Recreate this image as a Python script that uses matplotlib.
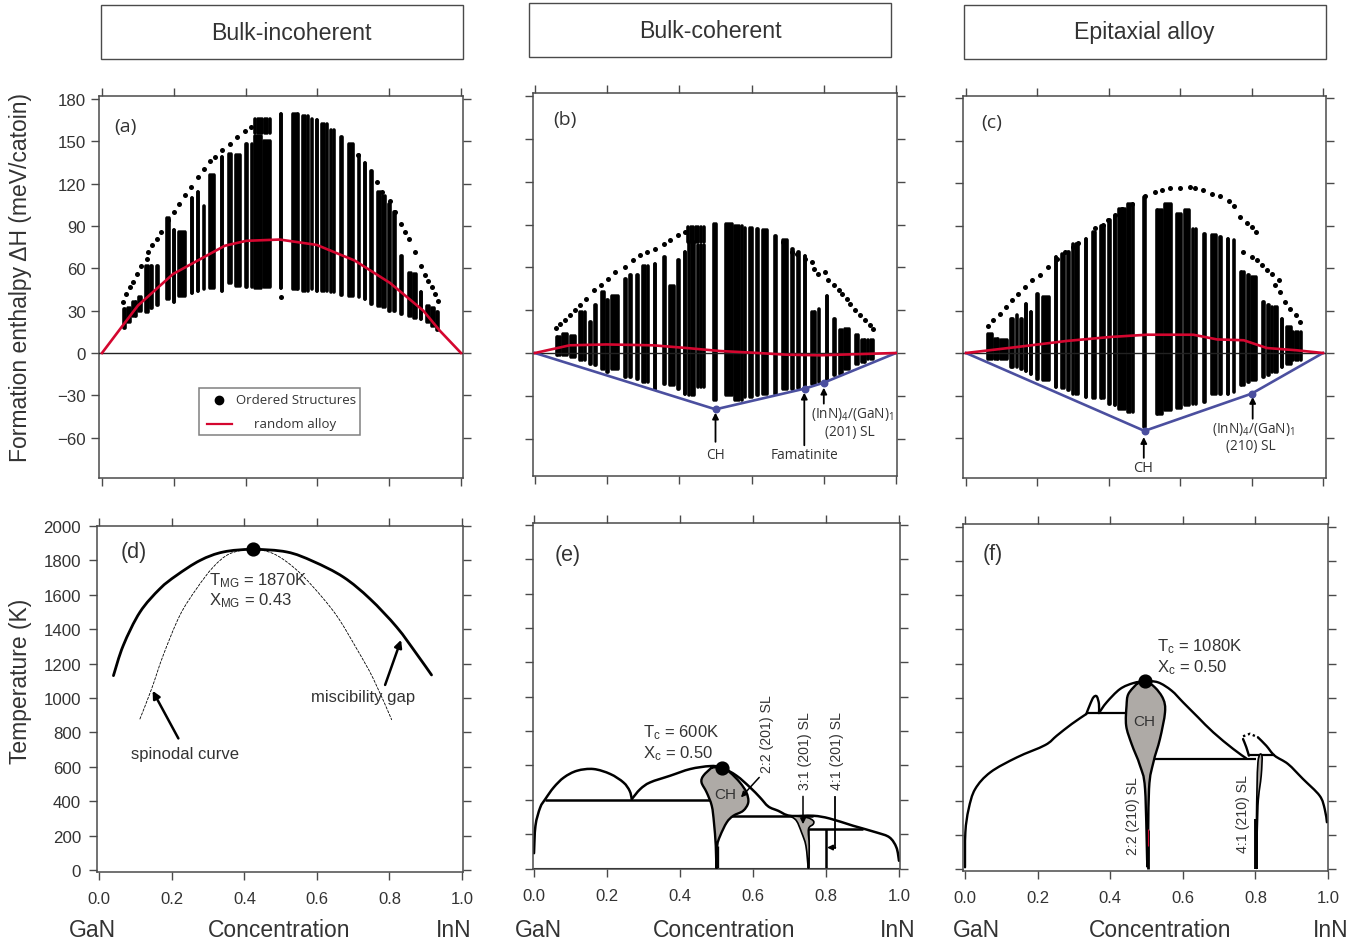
"""
GaN-InN formation enthalpy and phase diagram panels
"""

import numpy as np
import matplotlib
matplotlib.use("Agg")
import matplotlib.pyplot as plt
from matplotlib.patches import Rectangle, PathPatch
from matplotlib.path import Path

W, H = 1366, 945
DARK = "#333333"
SPINE = "#4a4a4a"
RED = "#d4062f"
BLUE = "#4b4f9f"
GRAY = "#aeaaa6"
SANS = "Liberation Sans"
MYRIAD = "Open Sans"

plt.rcParams["font.family"] = [SANS, "DejaVu Sans"]
plt.rcParams["mathtext.default"] = "regular"

# ======================================================
# DATA - enthalpy panels (concentration, meV/cation)
# ======================================================

a_left = [.057, .068, .082, .100, .119, .133, .148, .178, .196, .211, .247, .263, .282, .296, .330, .351, .370, .396, .414, .423, .447, .423, .495, .528, .556, .581, .596, .609, .635, .663, .684, .711, .728, .744, .765, .779, .796, .809, .830, .851, .865, .884, .902, .914, .928]
a_right = [.068, .082, .100, .114, .133, .144, .159, .190, .205, .235, .256, .272, .289, .317, .338, .363, .388, .407, .421, .447, .471, .471, .503, .551, .577, .588, .604, .630, .649, .672, .704, .718, .737, .756, .779, .791, .805, .821, .839, .865, .878, .893, .914, .928, .941]
a_top = [31, 32, 36, 40, 62, 62, 62, 96, 87, 85.6, 110, 114, 104.5, 125.8, 138.8, 141, 140, 148, 148, 154, 150, 166, 169.6, 169.6, 168, 166, 165, 162.5, 157.8, 153, 148, 140, 135, 129, 114, 111.6, 105.7, 99.8, 69, 57, 56, 43, 33.6, 32, 29]
a_bot = [17.5, 22, 26.5, 30, 29, 32, 34, 38, 36, 40.7, 42.6, 44, 45.4, 45.9, 44, 49.4, 47.8, 46.6, 46.6, 46, 47, 156, 46, 45.4, 44, 45.4, 44, 44, 43.5, 41, 40.7, 39.5, 38.3, 34.8, 33.6, 32.4, 30, 30, 27.7, 26.5, 25, 24, 21.8, 19.4, 16]

a_dots_x = [.059, .068, .077, .086, .098, .110, .124, .128, .140, .153, .165, .184, .200, .214, .230, .249, .268, .283, .300, .314, .333, .356, .375, .398, .416, .499,
            .691, .714, .765, .779, .802, .816, .832, .844, .856, .872, .888, .900, .909, .918, .928, .937]
a_dots_y = [36.4, 41.9, 46.6, 50.6, 56, 61.5, 66.7, 71.4, 76.2, 80.9, 86.1, 93.9, 99.8, 105.7, 112.1, 117.5, 124.6, 130.6, 135.8, 138.8, 143.6, 148.3, 153, 157, 160, 39.5,
            146, 140, 121, 114, 108, 99.8, 91.5, 86, 81, 71.4, 61.5, 55.6, 51.3, 46.6, 41.9, 36.7]

a_red_x = [0, .054, .10, .198, .342, .402, .495, .598, .704, .802, .895, .941, 1]
a_red_y = [0, 18.2, 33.6, 56, 76, 79.5, 80.4, 76.6, 65.5, 49.7, 30, 15.8, 0]

b_left = [.057, .073, .096, .121, .147, .163, .182, .196, .209, .244, .259, .279, .295, .328, .353, .371, .392, .411, .423, .448, .420, .492, .526, .549, .579, .591, .610, .628, .660, .684, .709, .725, .744, .764, .783, .804, .825, .841, .855, .885, .901, .919]
b_right = [.073, .092, .115, .142, .159, .172, .194, .205, .235, .255, .270, .289, .316, .337, .364, .388, .403, .420, .445, .471, .471, .505, .549, .577, .586, .605, .622, .647, .672, .702, .718, .735, .753, .781, .790, .813, .834, .855, .873, .899, .919, .940]
b_top = [11.2, 13.5, 12, 28.7, 21.7, 33.4, 42.7, 36.9, 40, 52, 54.4, 54.4, 61, 62.6, 67, 47, 65, 70.7, 77.7, 76, 88.3, 90.6, 90.6, 89.4, 88, 88, 87, 86, 82, 79, 73, 70.7, 68, 28.7, 31, 40, 24, 15.9, 17, 12.4, 8.9, 8.9]
b_bot = [-1.2, -1.6, -2.8, -5, -7.5, -8.6, -11, -13.3, -11, -16.8, -16.8, -18, -20, -25, -21.5, -22.6, -25, -28.5, -29.7, -24, 77.7, -33, -29.7, -33, -30.8, -30.8, -29.7, -28.5, -28.5, -25, -25, -24.3, -23.8, -21.5, -20, -19, -15.6, -14.5, -11, -7.5, -6.3, -4]

b_dots_x = [.059, .070, .082, .096, .110, .126, .142, .163, .184, .203, .221, .249, .272, .290, .309, .332, .357, .374, .397, .415,
            .688, .711, .727, .748, .767, .772, .785, .804, .813, .827, .841, .850, .864, .873, .887, .901, .915, .929, .936]
b_dots_y = [17.7, 20.5, 22.9, 26.4, 29.9, 33.4, 37.6, 43.9, 47.4, 51.6, 56.7, 60.2, 64.9, 68.4, 70.7, 73, 76.6, 78.9, 82.4, 84.8,
            77.7, 70.7, 69.6, 66, 63.7, 59, 55.6, 56.7, 50.9, 47.4, 43.9, 41.6, 38, 34.6, 29.9, 26.4, 22.9, 19.4, 17]

b_red_x = [0, .096, .198, .327, .42, .512, .605, .697, .79, .882, 1]
b_red_y = [0, 5.4, 6, 5.4, 3.5, 1.4, .2, -1.2, -1.6, -.9, 0]
b_blue_x = [0, .5, .747, .80, 1]
b_blue_y = [0, -39.5, -25, -20.8, 0]

c_left = [.058, .077, .095, .121, .140, .151, .163, .177, .196, .212, .247, .265, .282, .296, .331, .353, .373, .396, .413, .425, .450, .495, .530, .553, .586, .609, .633, .663, .686, .707, .729, .748, .766, .785, .796, .829, .841, .854, .882, .894, .913]
c_right = [.077, .095, .119, .137, .147, .161, .172, .186, .206, .236, .256, .278, .292, .318, .339, .366, .390, .406, .422, .448, .471, .505, .553, .577, .605, .630, .647, .673, .703, .717, .738, .755, .782, .796, .817, .838, .852, .876, .890, .913, .941]
c_top = [13.6, 10, 9, 24, 26.6, 24, 34.8, 29, 42, 39.5, 67.8, 70, 71.3, 77, 80.7, 85.4, 90, 93.6, 96, 102, 105, 110, 100.7, 105, 98, 100.7, 87.8, 84, 83, 82, 80.7, 79.5, 57, 54.8, 53.6, 36, 33.6, 32.5, 24, 18.4, 14.8]
c_bot = [-4, -4.5, -4, -10, -10, -11, -13, -14.6, -18, -19, -24, -25, -26, -28.7, -31, -32, -32, -35.8, -37, -39.3, -41.6, -52, -42.8, -40.5, -39, -37, -35.8, -34.6, -28.7, -28.7, -28.7, -27.5, -22.8, -20.5, -19.3, -17, -15.8, -13.4, -10, -7.5, -5.2]

c_dots_x = [.063, .077, .095, .112, .128, .147, .165, .184, .207, .231, .254, .278, .301, .315, .362, .385, .399, .418, .436, .464, .5,
            .53, .549, .572, .6, .628, .642, .665, .689, .712, .736, .75, .768, .787, .801, .813,
            .776, .801, .815, .829, .843, .857, .876, .866, .88, .894, .908, .923, .936]
c_dots_y = [19, 23, 27.8, 32.5, 37.2, 41.9, 46.6, 51.3, 54.8, 60.7, 66.6, 71.3, 74.8, 77.9, 88.2, 90.6, 94, 97.2, 101.9, 105.4, 110.8,
            113.6, 115.3, 116.5, 116.5, 117, 116.7, 114.8, 112.5, 110.8, 107, 104, 96, 92, 89, 85.4,
            71.3, 67.8, 65.4, 61.9, 58.4, 56, 51.3, 47.8, 43, 36, 31.3, 26.6, 21.9]

c_red_x = [0, .142, .282, .404, .507, .637, .703, .778, .843, .927, 1]
c_red_y = [0, 4.2, 8.5, 11.3, 12.9, 12.9, 9.6, 9, 3.5, 1.9, 0]
c_blue_x = [0, .5, .80, 1]
c_blue_y = [0, -55, -28.7, 0]

# ======================================================
# DATA - phase diagrams (concentration, K)
# ======================================================

d_gap_x = [.039, .066, .112, .167, .213, .278, .342, .423, .517, .59, .673, .746, .82, .875, .916]
d_gap_y = [1130, 1305, 1499, 1635, 1713, 1800, 1849, 1864, 1849, 1794, 1703, 1577, 1412, 1256, 1134]
d_spin_x = [.112, .144, .176, .222, .268, .314, .36, .423, .48, .535, .59, .654, .71, .756, .806]
d_spin_y = [878, 1052, 1247, 1480, 1635, 1761, 1839, 1864, 1839, 1761, 1645, 1480, 1285, 1110, 874]

e_left_x = [0, .004, .017, .031, .054, .082, .118, .163, .209, .245, .262, .268]
e_left_y = [89, 249, 355, 404, 472, 530, 569, 579, 550, 501, 452, 404]
e_mid_x = [.268, .291, .318, .373, .428, .482, .514, .555, .592, .619, .642, .669, .701, .765, .81, .874, .938, .974, .993, 1]
e_mid_y = [404, 462, 501, 540, 579, 596, 588, 540, 472, 414, 361, 336, 307, 307, 291, 249, 210, 181, 122, 45]
e_ch_x = [.487, .464, .459, .473, .487, .493, .498, .5, .502, .51, .528, .546, .573, .587, .582, .564, .537, .514, .487]
e_ch_y = [588, 540, 501, 443, 365, 268, 132, 0, 132, 190, 268, 307, 336, 384, 443, 501, 559, 588, 588]
e_31_x = [.701, .719, .733, .745, .752, .754, .752, .765, .765, .747, .701]
e_31_y = [307, 278, 210, 132, 0, 132, 229, 258, 278, 297, 307]
# tie lines: y, x from, x to
e_tie_y = [400, 307, 229]
e_tie_from = [.031, .537, .751]
e_tie_to = [.482, .765, .901]

f_left_x = [0, .001, .01, .028, .07, .143, .221, .253, .294, .334]
f_left_y = [10, 214, 350, 467, 565, 652, 724, 779, 847, 905]
f_bump_x = [.334, .345, .354, .363, .369, .369]
f_bump_y = [905, 964, 1003, 1008, 964, 911]
f_main_x = [.369, .39, .427, .464, .496, .532, .569, .601, .642, .684, .739, .775]
f_main_y = [911, 973, 1051, 1086, 1096, 1090, 1042, 973, 886, 798, 701, 646]
f_lobe_x = [.766, .775, .782]
f_lobe_y = [759, 711, 662]
f_dot_x = [.766, .785, .807]
f_dot_y = [775, 790, 769]
f_right_x = [.807, .83, .853, .89, .931, .977, .991, .997]
f_right_y = [769, 720, 662, 613, 526, 428, 350, 273]
f_ch_x = [.473, .45, .445, .444, .459, .482, .496, .503, .507, .519, .537, .551, .546, .523, .496, .473]
f_ch_y = [1081, 1022, 954, 837, 730, 604, 467, 10, 467, 623, 759, 915, 993, 1061, 1096, 1081]
f_41_x = [.803, .803, .807, .818, .816, .807, .803]
f_41_y = [4, 292, 623, 662, 545, 370, 4]
f_tie_y = [909, 643, 666]
f_tie_from = [.334, .519, .782]
f_tie_to = [.445, .803, .853]

x_ticks = [0, .2, .4, .6, .8, 1]
x_labels = ["0.0", "0.2", "0.4", "0.6", "0.8", "1.0"]
h_ticks = [-60, -30, 0, 30, 60, 90, 120, 150, 180]
t_ticks = [0, 200, 400, 600, 800, 1000, 1200, 1400, 1600, 1800, 2000]

titles = ["Bulk-incoherent", "Bulk-coherent", "Epitaxial alloy"]


# ======================================================
# HELPERS
# ======================================================

fig = plt.figure(figsize=(W / 100, H / 100), dpi=100)


def make_axes(box, xpx, ypx, yvals, yticks):
    left, right, top, bottom = box
    ax = fig.add_axes([left / W, 1 - bottom / H, (right - left) / W, (bottom - top) / H])
    xs = 1 / (xpx[1] - xpx[0])
    ax.set_xlim((left - xpx[0]) * xs, (right - xpx[0]) * xs)
    ys = (yvals[1] - yvals[0]) / (ypx[0] - ypx[1])
    ax.set_ylim(yvals[0] - (bottom - ypx[0]) * ys, yvals[0] + (ypx[0] - top) * ys)
    ax.set_xticks(x_ticks)
    ax.set_yticks(yticks)
    ax.tick_params(direction="out", length=5.5, width=1, color=SPINE, top=True, right=True,
                   labelbottom=False, labelleft=False, labelcolor=DARK)
    for s in ax.spines.values():
        s.set_color(SPINE)
        s.set_linewidth(1.1)
    return ax


def curve(ax, x, y, **kw):
    # bezier segments through the read points, so the line is not angular
    pts = np.column_stack([x, y])
    n = len(pts)
    verts = [pts[0]]
    codes = [Path.MOVETO]
    for i in range(n - 1):
        p0, p1, p2, p3 = pts[max(i - 1, 0)], pts[i], pts[i + 1], pts[min(i + 2, n - 1)]
        verts += [p1 + (p2 - p0) / 6, p2 - (p3 - p1) / 6, p2]
        codes += [Path.CURVE4] * 3
    kw.setdefault("fill", False)
    ax.add_patch(PathPatch(Path(verts, codes), capstyle="round", **kw))


def draw_enthalpy(ax, left, right, top, bot, dots_x, dots_y, red_x, red_y, blue_x=None, blue_y=None):
    # each block of structures is a set of touching columns of dots
    for l, r, t, b in zip(left, right, top, bot):
        inner = r - l - .008
        if inner <= 0:
            xs = [(l + r) / 2]
        else:
            xs = np.linspace(l + .004, r - .004, int(np.ceil(inner / .0075)) + 1)
        ax.vlines(xs, b, t, color="black", lw=2.6, capstyle="round", zorder=2)
    ax.scatter(dots_x, dots_y, s=13, color="black", linewidths=0, zorder=2)
    ax.axhline(0, color="#222222", lw=1, zorder=3)
    if blue_x is not None:
        ax.plot(blue_x, blue_y, color=BLUE, lw=1.9, zorder=4)
        ax.scatter(blue_x[1:-1], blue_y[1:-1], s=22, color=BLUE, zorder=5)
    ax.plot(red_x, red_y, color=RED, lw=1.9, zorder=5)


def note(ax, txt, x, y, size=9.8, family=MYRIAD, **kw):
    kw.setdefault("ha", "center")
    kw.setdefault("va", "center")
    ax.text(x, y, txt, fontsize=size, family=family, color=DARK, **kw)


def arrow(ax, start, end, lw=1.3, scale=9):
    ax.annotate("", xy=end, xytext=start,
                arrowprops=dict(arrowstyle="-|>", color="black", lw=lw, mutation_scale=scale,
                                shrinkA=0, shrinkB=0))


# ======================================================
# TOP ROW
# ======================================================

ax_a = make_axes((99, 463, 97, 479), (102, 461), (354, 100), (0, 180), h_ticks)
ax_b = make_axes((533, 897, 94, 477), (535, 896), (354, 97.3), (0, 180), h_ticks)
ax_c = make_axes((963, 1326, 97, 479), (966, 1323), (354, 99), (0, 180), h_ticks)

draw_enthalpy(ax_a, a_left, a_right, a_top, a_bot, a_dots_x, a_dots_y, a_red_x, a_red_y)
draw_enthalpy(ax_b, b_left, b_right, b_top, b_bot, b_dots_x, b_dots_y, b_red_x, b_red_y, b_blue_x, b_blue_y)
draw_enthalpy(ax_c, c_left, c_right, c_top, c_bot, c_dots_x, c_dots_y, c_red_x, c_red_y, c_blue_x, c_blue_y)

ax_a.tick_params(labelleft=True, labelsize=12.2, pad=4)

# legend box drawn by hand, it is not laid out like a normal legend
ax_a.add_patch(Rectangle((.27, -58), .45, 33.2, fc="white", ec="#808080", lw=1.1, zorder=6))
ax_a.scatter([.326], [-33.3], s=36, color="black", zorder=7)
ax_a.plot([.292, .362], [-50, -50], color=RED, lw=1.6, zorder=7)
note(ax_a, "Ordered Structures", .372, -33.3, size=9.5, ha="left", zorder=7)
note(ax_a, "random alloy", .538, -50, size=9.5, zorder=7)

note(ax_a, "(a)", .064, 161, size=14)
note(ax_b, "(b)", .083, 164, size=14)
note(ax_c, "(c)", .073, 163, size=14)

note(ax_b, "CH", .499, -71)
note(ax_b, "Famatinite", .746, -71)
note(ax_b, "(InN)$_4$/(GaN)$_1$", .878, -42.5)
note(ax_b, "(201) SL", .873, -55.3)
arrow(ax_b, (.5, -62.3), (.5, -41.8))
arrow(ax_b, (.746, -64.7), (.746, -27.8))
arrow(ax_b, (.8, -35.5), (.8, -24.3))

note(ax_c, "CH", .495, -80.5, size=10.5)
note(ax_c, "(InN)$_4$/(GaN)$_1$", .806, -53.2)
note(ax_c, "(210) SL", .798, -65.6)
arrow(ax_c, (.498, -74), (.498, -59.3))
arrow(ax_c, (.803, -46.4), (.803, -31))

# ======================================================
# BOTTOM ROW
# ======================================================

ax_d = make_axes((97, 463, 527, 873), (99.3, 462), (871, 527), (0, 2000), t_ticks)
ax_e = make_axes((533, 900, 524, 870), (534, 899), (869.5, 697.7), (0, 1000), t_ticks)
ax_f = make_axes((963, 1328, 525, 872), (965, 1328), (870, 630.3), (0, 1400), t_ticks)

for ax in (ax_d, ax_e, ax_f):
    ax.tick_params(axis="x", labelbottom=True, labelsize=12, pad=8)
    ax.set_xticklabels(x_labels)
ax_d.tick_params(axis="y", labelleft=True, labelsize=12.2, pad=6)

# (d)
curve(ax_d, d_gap_x, d_gap_y, color="black", lw=2)
curve(ax_d, d_spin_x, d_spin_y, color="black", lw=.6, ls=(0, (3, 2)))
ax_d.scatter([.423], [1864], s=85, color="black", zorder=5)
note(ax_d, "(d)", .094, 1850, size=15.5, family=SANS)
note(ax_d, "T$_{MG}$ = 1870K", .302, 1690, size=12, family=SANS, ha="left")
note(ax_d, "X$_{MG}$ = 0.43", .302, 1569, size=12, family=SANS, ha="left")
note(ax_d, "spinodal curve", .236, 680, size=12, family=SANS)
note(ax_d, "miscibility gap", .727, 1011, size=12, family=SANS)
arrow(ax_d, (.218, 765), (.147, 1042), lw=1.8, scale=11)
arrow(ax_d, (.788, 1076), (.832, 1338), lw=1.8, scale=11)

# (e)
curve(ax_e, e_ch_x, e_ch_y, fill=True, fc=GRAY, ec="black", lw=1.7, zorder=3)
curve(ax_e, e_31_x, e_31_y, fill=True, fc=GRAY, ec="black", lw=1.2, zorder=3)
curve(ax_e, e_left_x, e_left_y, color="black", lw=1.8)
curve(ax_e, e_mid_x, e_mid_y, color="black", lw=1.8)
ax_e.hlines(e_tie_y, e_tie_from, e_tie_to, color="black", lw=1.8)
ax_e.hlines([0], [0], [1], color="black", lw=1.5)
ax_e.vlines([.5, .752, .801], [0, 0, 0], [130, 229, 229], color="black", lw=[2.4, 1.8, 1.8])
ax_e.scatter([.514], [585], s=85, color="black", zorder=5)
note(ax_e, "(e)", .093, 1830, size=15.5, family=SANS)
note(ax_e, "T$_c$ = 600K", .299, 799, size=12, family=SANS, ha="left")
note(ax_e, "X$_c$ = 0.50", .299, 677, size=12, family=SANS, ha="left")
note(ax_e, "CH", .523, 433, size=11, family=SANS, zorder=6)
note(ax_e, "2:2 (201) SL", .638, 787, size=10.2, family=SANS, rotation=90)
note(ax_e, "3:1 (201) SL", .742, 688, size=10.2, family=SANS, rotation=90)
note(ax_e, "4:1 (201) SL", .83, 688, size=10.2, family=SANS, rotation=90)
arrow(ax_e, (.617, 530), (.567, 414), lw=1.1, scale=8)
arrow(ax_e, (.737, 420), (.737, 258), lw=1.1, scale=8)
ax_e.plot([.826, .826], [419, 122], color="black", lw=1.3)
arrow(ax_e, (.826, 122), (.803, 122), lw=1.1, scale=8)

# (f)
curve(ax_f, f_ch_x, f_ch_y, fill=True, fc=GRAY, ec="black", lw=1.7, zorder=3)
curve(ax_f, f_41_x, f_41_y, fill=True, fc=GRAY, ec="black", lw=1.2, zorder=3)
for cx, cy in [(f_left_x, f_left_y), (f_bump_x, f_bump_y), (f_main_x, f_main_y),
               (f_lobe_x, f_lobe_y), (f_right_x, f_right_y)]:
    curve(ax_f, cx, cy, color="black", lw=1.7)
ax_f.plot(f_dot_x, f_dot_y, color="black", lw=1.7, ls=(0, (1, 1.2)))
ax_f.hlines(f_tie_y, f_tie_from, f_tie_to, color="black", lw=1.6)
ax_f.vlines([.503, .803], [0, 0], [230, 290], color="black", lw=[2, 2.8], zorder=4)
ax_f.vlines([.505], [136], [234], color=RED, lw=.8, zorder=5)
ax_f.scatter([.496], [1096], s=85, color="black", zorder=5)
note(ax_f, "(f)", .077, 1840, size=15.5, family=SANS)
note(ax_f, "T$_c$ = 1080K", .529, 1306, size=12, family=SANS, ha="left")
note(ax_f, "X$_c$ = 0.50", .529, 1183, size=12, family=SANS, ha="left")
note(ax_f, "CH", .493, 863, size=11, family=SANS, zorder=6)
note(ax_f, "2:2 (210) SL", .463, 315, size=10.2, family=SANS, rotation=90)
note(ax_f, "4:1 (210) SL", .766, 326, size=10.2, family=SANS, rotation=90)

# ======================================================
# FIGURE TEXT
# ======================================================

for name, (x0, x1, y0, y1), cx in zip(titles, [(101, 463, 6, 60), (529, 891, 4, 58), (964, 1326, 6, 60)],
                                      [291, 710, 1144]):
    fig.add_artist(Rectangle((x0 / W, 1 - y1 / H), (x1 - x0) / W, (y1 - y0) / H, fill=False,
                             ec=SPINE, lw=1, transform=fig.transFigure))
    fig.text(cx / W, 1 - (y0 + y1) / 2 / H, name, ha="center", va="center",
             fontsize=16.7, color=DARK)

for gan, conc, inn in [(92, 279, 454), (538, 724, 898), (976, 1160, 1331)]:
    for px, label in [(gan, "GaN"), (conc, "Concentration"), (inn, "InN")]:
        fig.text(px / W, 1 - 931 / H, label, ha="center", va="center", fontsize=16.5, color=DARK)

fig.text(21 / W, 1 - 277 / H, "Formation enthalpy ΔH (meV/catoin)", rotation=90, ha="center",
         va="center", fontsize=16.5, color=DARK)
fig.text(21 / W, 1 - 681 / H, "Temperature (K)", rotation=90, ha="center", va="center",
         fontsize=16.5, color=DARK)

fig.savefig("out.png", dpi=100)
